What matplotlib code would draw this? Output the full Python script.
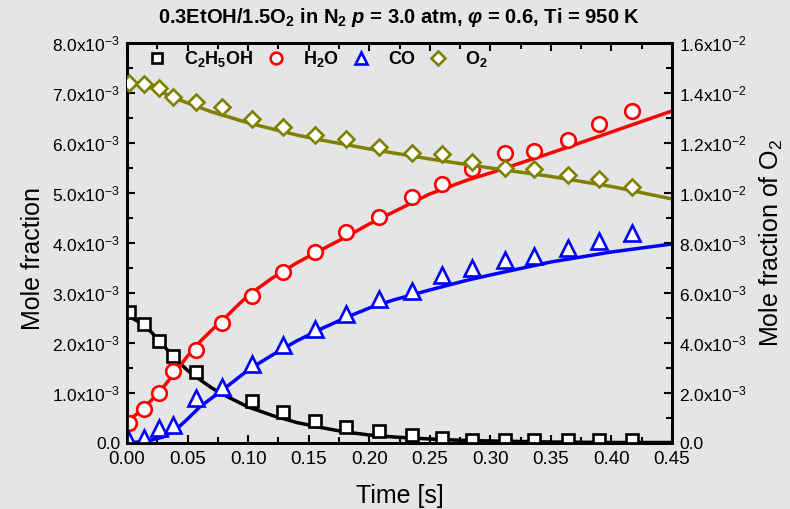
import numpy as np
import matplotlib
matplotlib.use("Agg")
import matplotlib.pyplot as plt
from matplotlib.ticker import MultipleLocator, FuncFormatter

plt.rcParams['font.family'] = ['Liberation Sans', 'DejaVu Sans']
plt.rcParams['mathtext.fontset'] = 'custom'
plt.rcParams['mathtext.rm'] = 'Liberation Sans'
plt.rcParams['mathtext.it'] = 'Liberation Sans:italic'
plt.rcParams['mathtext.bf'] = 'Liberation Sans:bold'
plt.rcParams['mathtext.bfit'] = 'Liberation Sans:italic:bold'

# experimental points (mole fraction x1e-3)
t_eth = [0.002, 0.014, 0.026, 0.038, 0.057, 0.103, 0.129, 0.155, 0.181, 0.208,
         0.235, 0.260, 0.285, 0.312, 0.336, 0.364, 0.390, 0.417]
eth = [2.62, 2.38, 2.04, 1.74, 1.42, 0.84, 0.62, 0.44, 0.32, 0.24,
       0.16, 0.10, 0.06, 0.05, 0.05, 0.05, 0.05, 0.05]

t_exp = [0.002, 0.014, 0.026, 0.038, 0.057, 0.078, 0.103, 0.129, 0.155, 0.181,
         0.208, 0.235, 0.260, 0.285, 0.312, 0.336, 0.364, 0.390, 0.417]
h2o = [0.40, 0.68, 1.00, 1.44, 1.86, 2.40, 2.94, 3.42, 3.82, 4.22,
       4.52, 4.92, 5.18, 5.48, 5.80, 5.84, 6.06, 6.38, 6.64]
t_co = [0.001, 0.014, 0.026, 0.038, 0.057, 0.078, 0.103, 0.129, 0.155, 0.181,
        0.208, 0.235, 0.260, 0.285, 0.312, 0.336, 0.364, 0.390, 0.417]
co = [0.08, 0.10, 0.30, 0.36, 0.90, 1.12, 1.58, 1.96, 2.28, 2.58,
      2.88, 3.04, 3.36, 3.50, 3.66, 3.74, 3.90, 4.04, 4.20]
o2 = [14.40, 14.36, 14.20, 13.84, 13.64, 13.44, 12.96, 12.64, 12.32, 12.16,
      11.84, 11.60, 11.56, 11.24, 11.00, 10.96, 10.72, 10.56, 10.24]

# model curves (x1e-3)
t_mod = [0, 0.01, 0.02, 0.03, 0.04, 0.05, 0.06, 0.07, 0.08, 0.09, 0.10, 0.12,
         0.14, 0.16, 0.18, 0.20, 0.22, 0.25, 0.28, 0.30, 0.35, 0.40, 0.45]
eth_mod = [2.55, 2.42, 2.22, 1.95, 1.68, 1.45, 1.27, 1.10, 0.96, 0.84, 0.72, 0.55,
           0.41, 0.31, 0.22, 0.16, 0.12, 0.08, 0.05, 0.04, 0.02, 0.01, 0.01]
h2o_mod = [0.42, 0.62, 0.85, 1.12, 1.42, 1.74, 2.02, 2.26, 2.48, 2.72, 2.95, 3.30,
           3.60, 3.86, 4.11, 4.38, 4.62, 4.98, 5.25, 5.40, 5.80, 6.22, 6.64]
co_mod = [0.0, 0.02, 0.06, 0.12, 0.26, 0.48, 0.72, 0.90, 1.08, 1.27, 1.46, 1.76,
          2.04, 2.28, 2.50, 2.70, 2.86, 3.06, 3.25, 3.36, 3.62, 3.82, 3.98]
o2_mod = [14.44, 14.34, 14.20, 14.00, 13.78, 13.60, 13.42, 13.24, 13.10, 12.95, 12.80, 12.56,
          12.32, 12.12, 11.94, 11.76, 11.60, 11.36, 11.14, 11.00, 10.66, 10.26, 9.76]

sc = 1e-3


def sci(v, pos):
    if abs(v) < 1e-12:
        return "0.0"
    e = int(np.floor(np.log10(abs(v)) + 1e-9))
    m = v / 10 ** e
    return "%.1fx10$^{%d}$" % (m, e)


fig = plt.figure(figsize=(7.9, 5.09), dpi=100, facecolor='#e4e5e7')
ax = fig.add_axes([0.1608, 0.1297, 0.6899, 0.7859])
ax.set_facecolor('none')
ax2 = ax.twinx()

lw = 2.5
mew = 1.9
ax.plot(t_mod, np.array(eth_mod) * sc, color='black', lw=lw, zorder=2)
ax.plot(t_mod, np.array(h2o_mod) * sc, color='#ff0000', lw=lw, zorder=2)
ax.plot(t_mod, np.array(co_mod) * sc, color='#0000ff', lw=lw, zorder=2)
h1, = ax.plot(t_eth, np.array(eth) * sc, 's', ms=9, mfc='white', mec='black', mew=mew, zorder=3)
h2, = ax.plot(t_exp, np.array(h2o) * sc, 'o', ms=10.5, mfc='white', mec='#ff0000', mew=mew, zorder=3)
h3, = ax.plot(t_co, np.array(co) * sc, '^', ms=11.5, mfc='white', mec='#0000ff', mew=mew, zorder=3)

ax2.plot(t_mod, np.array(o2_mod) * sc, color='#808000', lw=lw, zorder=2)
h4, = ax2.plot(t_exp, np.array(o2) * sc, 'D', ms=8.5, mfc='white', mec='#808000', mew=mew, zorder=3)

ax.set_xlim(0, 0.45)
ax.set_ylim(0, 8e-3)
ax2.set_ylim(0, 1.6e-2)

ax.xaxis.set_major_locator(MultipleLocator(0.05))
ax.xaxis.set_minor_locator(MultipleLocator(0.025))
ax.xaxis.set_major_formatter(FuncFormatter(lambda v, p: "%.2f" % v))
ax.yaxis.set_major_locator(MultipleLocator(1e-3))
ax.yaxis.set_minor_locator(MultipleLocator(0.5e-3))
ax.yaxis.set_major_formatter(FuncFormatter(sci))
ax2.yaxis.set_major_locator(MultipleLocator(2e-3))
ax2.yaxis.set_minor_locator(MultipleLocator(1e-3))
ax2.yaxis.set_major_formatter(FuncFormatter(sci))

ax.tick_params(which='both', direction='in', top=True, right=False, width=1.5)
ax.tick_params(axis='x', labelsize=13.5, pad=6)
ax.tick_params(axis='y', labelsize=12.5, pad=5)
ax.tick_params(which='major', length=6)
ax.tick_params(which='minor', length=4)
ax2.tick_params(which='both', direction='in', width=1.5, labelsize=12.5, pad=5)
ax2.tick_params(which='major', length=6)
ax2.tick_params(which='minor', length=4)
for a in (ax, ax2):
    for s in a.spines.values():
        s.set_linewidth(2)

ax.set_xlabel('Time [s]', fontsize=18, labelpad=11)
ax.set_ylabel('Mole fraction', fontsize=18)
ax.yaxis.set_label_coords(-0.15, 0.46)
ax2.set_ylabel('Mole fraction of O$_2$', fontsize=18, labelpad=8)

fig.text(0.505, 0.965,
         r'0.3EtOH/1.5O$_\mathbf{2}$ in N$_\mathbf{2}$ $\mathbfit{p}$ = 3.0 atm, '
         r'$\mathbfit{\varphi}$ = 0.6, Ti = 950 K',
         ha='center', va='center', fontsize=14.5, fontweight='bold')

leg = ax2.legend([h1, h2, h3, h4],
                 [r'C$_\mathbf{2}$H$_\mathbf{5}$OH', r'H$_\mathbf{2}$O', 'CO', r'O$_\mathbf{2}$'],
                 loc='upper left', bbox_to_anchor=(0.005, 1.025), ncol=4, frameon=False,
                 prop={'weight': 'bold', 'size': 13}, markerscale=0.8,
                 handlelength=1.2, handletextpad=0.9, columnspacing=0.65)

fig.savefig('out.png', dpi=100, facecolor=fig.get_facecolor())
